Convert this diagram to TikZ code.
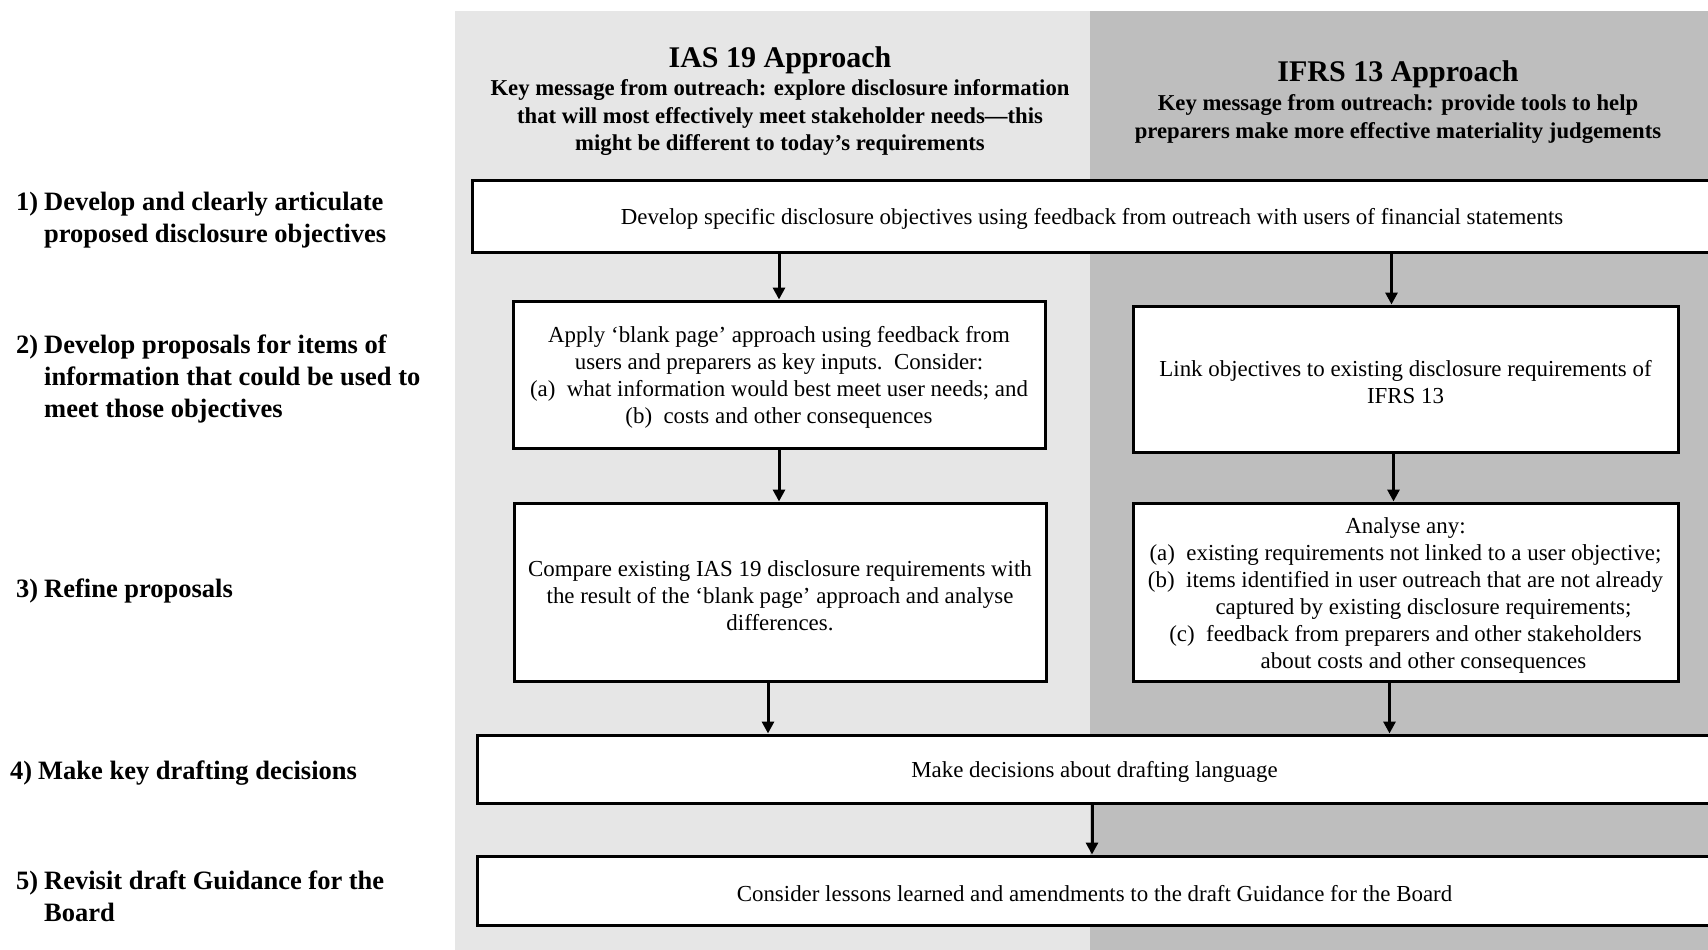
\documentclass[tikz,border=0pt]{standalone}
\usepackage{fontspec}
\setmainfont{Liberation Serif}
\usetikzlibrary{arrows.meta}

\definecolor{iasgray}{HTML}{E6E6E6}
\definecolor{ifrsgray}{HTML}{BEBEBE}
\newcommand{\boxstrut}{\rule{0pt}{22.5pt}}

\begin{document}
\begin{tikzpicture}[x=1pt, y=-1pt,
  box/.style={draw, line width=3pt, fill=white, align=center, inner sep=0pt,
    font=\fontsize{22.9}{27}\selectfont},
  steplabel/.style={anchor=west, align=left, inner sep=0pt,
    font=\fontsize{26.5}{32}\selectfont\bfseries},
  approachtitle/.style={font=\fontsize{30}{34}\selectfont\bfseries},
  approachmsg/.style={align=center, font=\fontsize{22.7}{27.5}\selectfont\bfseries},
  arrow/.style={-{Triangle[length=12pt,width=12pt]}, line width=3pt}
  ]
  \useasboundingbox (0,0) rectangle (1708,950);

  % Background panels
  \fill[iasgray] (455,11) rectangle (1090,950);
  \fill[ifrsgray] (1090,11) rectangle (1708,950);

  % Approach headings
  \node[approachtitle] (iastitle) at (780,60) {IAS 19 Approach};
  \node[approachmsg] (iasmsg) at (780,118) {Key message from outreach: explore disclosure information\\that will most effectively meet stakeholder needs—this\\might be different to today’s requirements};
  \node[approachtitle] (ifrstitle) at (1398,74) {IFRS 13 Approach};
  \node[approachmsg] (ifrsmsg) at (1398,119) {Key message from outreach: provide tools to help\\preparers make more effective materiality judgements};

  % Steps
  \node[steplabel] (stepone) at (16,220) {\makebox[28pt][l]{1)}Develop and clearly articulate\\\hspace*{28pt}proposed disclosure objectives};
  \node[steplabel] (steptwo) at (16,379) {\makebox[28pt][l]{2)}Develop proposals for items of\\\hspace*{28pt}information that could be used to\\\hspace*{28pt}meet those objectives};
  \node[steplabel] (stepthree) at (16,591) {\makebox[28pt][l]{3)}Refine proposals};
  \node[steplabel] (stepfour) at (10,773) {\makebox[28pt][l]{4)}Make key drafting decisions};
  \node[steplabel] (stepfive) at (16,896) {\makebox[28pt][l]{5)}Revisit draft Guidance for the\\\hspace*{28pt}Board};

  % Boxes
  \node[box, minimum width=1240pt, minimum height=72pt] (objall) at (1092,216) {\boxstrut Develop specific disclosure objectives using feedback from outreach with users of financial statements};
  \node[box, minimum width=532pt, minimum height=147pt] (iasblank) at (779,374.5) {\boxstrut Apply ‘blank page’ approach using feedback from\\users and preparers as key inputs.\ \ Consider:\\(a)\enspace what information would best meet user needs; and\\(b)\enspace costs and other consequences};
  \node[box, minimum width=545pt, minimum height=146pt] (ifrslink) at (1405.5,379) {\boxstrut Link objectives to existing disclosure requirements of\\IFRS 13};
  \node[box, minimum width=532pt, minimum height=178pt] (iascompare) at (780,592) {\boxstrut Compare existing IAS 19 disclosure requirements with\\the result of the ‘blank page’ approach and analyse\\differences.};
  \node[box, minimum width=545pt, minimum height=178pt] (ifrsanalyse) at (1405.5,592) {\boxstrut Analyse any:\\(a)\enspace existing requirements not linked to a user objective;\\(b)\enspace items identified in user outreach that are not already\\\hspace*{36pt}captured by existing disclosure requirements;\\(c)\enspace feedback from preparers and other stakeholders\\\hspace*{36pt}about costs and other consequences};
  \node[box, minimum width=1235pt, minimum height=68pt] (drafting) at (1094.5,769) {\boxstrut Make decisions about drafting language};
  \node[box, minimum width=1235pt, minimum height=69pt] (revisit) at (1094.5,890.5) {\boxstrut Consider lessons learned and amendments to the draft Guidance for the Board};

  % Connections
  \draw[arrow] (objall.south -| iasblank.north) -- (iasblank.north);
  \draw[arrow] ([xshift=-14pt]objall.south -| ifrslink.north) -- ([xshift=-14pt]ifrslink.north);
  \draw[arrow] (iasblank.south) -- (iascompare.north -| iasblank.south);
  \draw[arrow] ([xshift=-12pt]ifrslink.south) -- ([xshift=-12pt]ifrsanalyse.north -| ifrslink.south);
  \draw[arrow] ([xshift=-12pt]iascompare.south) -- ([xshift=-12pt]drafting.north -| iascompare.south);
  \draw[arrow] ([xshift=-16pt]ifrsanalyse.south) -- ([xshift=-16pt]drafting.north -| ifrsanalyse.south);
  \draw[arrow] (drafting.south -| objall.south) -- (revisit.north -| objall.south);
\end{tikzpicture}
\end{document}
